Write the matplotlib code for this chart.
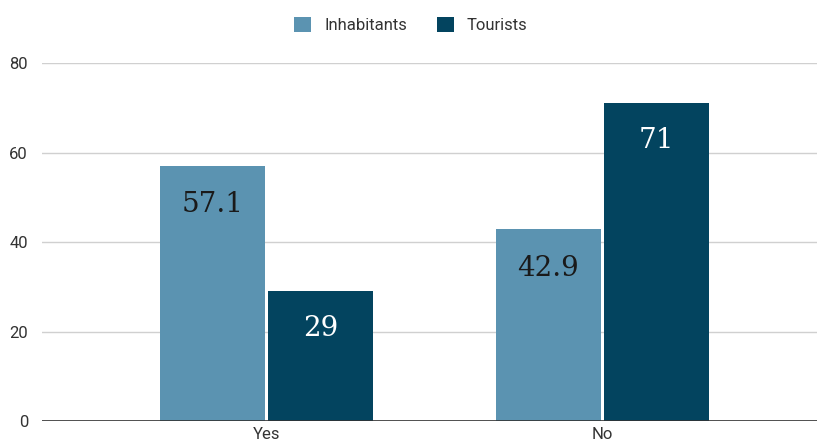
import numpy as np
import matplotlib.pyplot as plt

categories = ['Yes', 'No']
inhabitants = [57.1, 42.9]
tourists = [29, 71]
inh_labels = ['57.1', '42.9']
tour_labels = ['29', '71']

C_INH = '#5b93b1'
C_TOUR = '#03445f'

fig = plt.figure(figsize=(8.17, 4.45), dpi=100)
ax = fig.add_axes([0.0514, 0.054, 0.9486, 0.804])

x = np.arange(len(categories))
w = 0.3125
gap = 0.005
b1 = ax.bar(x - w / 2 - gap, inhabitants, w, color=C_INH, label='Inhabitants', zorder=2)
b2 = ax.bar(x + w / 2 + gap, tourists, w, color=C_TOUR, label='Tourists', zorder=2)

for rect, lab in zip(b1, inh_labels):
    ax.text(rect.get_x() + rect.get_width() / 2, rect.get_height() - 8.8, lab,
            ha='center', va='center', fontsize=20, family='DejaVu Serif', color='#1a1a1a', zorder=3)
for rect, lab in zip(b2, tour_labels):
    ax.text(rect.get_x() + rect.get_width() / 2, rect.get_height() - 8.3, lab,
            ha='center', va='center', fontsize=20, family='DejaVu Serif', color='white', zorder=3)

ax.set_xlim(-0.67, 1.64)
ax.set_ylim(0, 80)
ax.set_yticks([0, 20, 40, 60, 80])
ax.set_xticks(x)
ax.set_xticklabels(categories)
ax.grid(axis='y', color='#d0d0d0', linewidth=1, zorder=0)
ax.axhline(0, color='#333333', linewidth=1.2, zorder=4)
for s in ax.spines.values():
    s.set_visible(False)
ax.tick_params(axis='both', length=0, labelsize=12, labelcolor='#333333')
ax.tick_params(axis='y', pad=10)
ax.tick_params(axis='x', pad=4)
for t in ax.get_xticklabels() + ax.get_yticklabels():
    t.set_family('Roboto')

leg = fig.legend(loc='upper center', bbox_to_anchor=(0.503, 0.995), ncol=2, frameon=False,
                 prop={'family': 'Roboto', 'size': 12}, handlelength=1.0, handleheight=1.0,
                 columnspacing=1.8, handletextpad=0.8)
for t in leg.get_texts():
    t.set_color('#333333')

fig.savefig('out.png', dpi=100)
